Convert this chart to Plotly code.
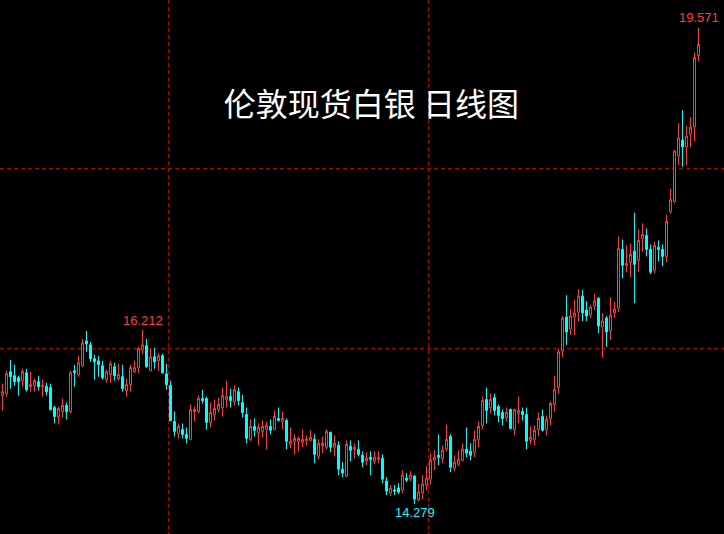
import numpy as np
import plotly.graph_objects as go

# ---- data ----
opens = [
    15.482, 15.504, 15.748, 15.703, 15.681, 15.648, 15.736, 15.582, 15.593, 15.637,
    15.582, 15.582, 15.571, 15.350, 15.250, 15.305, 15.372, 15.305, 15.758, 15.714,
    15.814, 16.090, 16.046, 15.891, 15.869, 15.814, 15.659, 15.714, 15.803, 15.670,
    15.692, 15.537, 15.604, 15.748, 15.792, 15.990, 16.035, 15.758, 15.913, 15.869,
    15.925, 15.725, 15.593, 15.195, 15.062, 15.106, 15.051, 14.996, 15.305, 15.305,
    15.449, 15.449, 15.184, 15.272, 15.327, 15.350, 15.438, 15.471, 15.416, 15.526,
    15.405, 15.272, 14.996, 15.140, 15.073, 15.084, 15.106, 15.140, 15.106, 15.228,
    15.195, 15.206, 14.941, 14.974, 14.974, 14.963, 14.985, 14.985, 14.996, 14.808,
    14.930, 14.908, 15.073, 14.908, 14.930, 14.665, 14.588, 14.919, 14.886, 14.886,
    14.819, 14.753, 14.797, 14.753, 14.775, 14.786, 14.532, 14.399, 14.433, 14.455,
    14.433, 14.565, 14.554, 14.588, 14.322, 14.399, 14.488, 14.554, 14.764, 14.819,
    14.786, 14.886, 15.029, 14.676, 14.720, 14.764, 14.886, 14.864, 14.853, 14.996,
    15.151, 15.438, 15.350, 15.460, 15.361, 15.294, 15.239, 15.327, 15.106, 15.283,
    15.305, 15.272, 14.985, 14.996, 15.106, 15.250, 15.106, 15.228, 15.383, 15.571,
    15.979, 16.355, 16.222, 16.355, 16.410, 16.587, 16.433, 16.377, 16.477, 16.565,
    16.245, 16.344, 16.200, 16.400, 16.455, 17.107, 16.930, 16.963, 17.085, 16.985,
    17.228, 17.261, 17.107, 16.875, 17.129, 17.107, 17.029, 17.526, 17.637, 18.145,
    18.322, 18.245, 18.388, 18.466, 19.261,
]
highs = [
    15.615, 15.758, 15.880, 15.825, 15.703, 15.780, 15.780, 15.748, 15.670, 15.703,
    15.659, 15.626, 15.615, 15.372, 15.361, 15.449, 15.405, 15.758, 15.825, 15.925,
    16.112, 16.200, 16.079, 15.936, 15.925, 15.869, 15.769, 15.869, 15.847, 15.836,
    15.825, 15.670, 15.825, 15.869, 16.024, 16.212, 16.112, 16.002, 16.013, 15.957,
    15.946, 15.836, 15.648, 15.305, 15.173, 15.173, 15.129, 15.383, 15.361, 15.482,
    15.548, 15.471, 15.405, 15.438, 15.460, 15.571, 15.648, 15.560, 15.593, 15.571,
    15.493, 15.350, 15.217, 15.228, 15.173, 15.206, 15.195, 15.217, 15.316, 15.350,
    15.305, 15.228, 15.129, 15.051, 15.029, 15.106, 15.040, 15.096, 15.051, 14.996,
    15.029, 15.106, 15.084, 15.040, 14.974, 14.742, 14.985, 14.985, 14.952, 14.985,
    14.864, 14.853, 14.864, 14.864, 14.864, 14.830, 14.577, 14.488, 14.488, 14.510,
    14.654, 14.621, 14.643, 14.599, 14.499, 14.599, 14.698, 14.842, 14.875, 15.051,
    14.930, 15.162, 15.051, 14.819, 14.875, 14.952, 15.129, 14.952, 15.096, 15.195,
    15.471, 15.571, 15.504, 15.504, 15.383, 15.327, 15.350, 15.339, 15.339, 15.471,
    15.350, 15.350, 15.140, 15.151, 15.294, 15.327, 15.261, 15.416, 15.703, 16.002,
    16.366, 16.598, 16.444, 16.543, 16.665, 16.654, 16.532, 16.488, 16.610, 16.576,
    16.400, 16.366, 16.576, 16.521, 17.250, 17.217, 17.151, 17.173, 17.515, 17.328,
    17.394, 17.339, 17.162, 17.195, 17.206, 17.162, 17.493, 17.781, 18.212, 18.510,
    18.654, 18.477, 18.576, 19.294, 19.571,
]
lows = [
    15.316, 15.471, 15.559, 15.593, 15.482, 15.582, 15.526, 15.526, 15.526, 15.537,
    15.471, 15.482, 15.316, 15.173, 15.162, 15.239, 15.217, 15.283, 15.582, 15.692,
    15.803, 15.968, 15.858, 15.659, 15.692, 15.659, 15.626, 15.626, 15.648, 15.648,
    15.526, 15.471, 15.526, 15.736, 15.736, 15.946, 15.792, 15.758, 15.781, 15.758,
    15.725, 15.548, 15.195, 15.029, 15.007, 15.007, 14.952, 14.985, 15.195, 15.283,
    15.394, 15.106, 15.129, 15.206, 15.294, 15.250, 15.350, 15.350, 15.372, 15.372,
    15.239, 14.952, 14.974, 15.029, 14.930, 15.018, 14.886, 15.051, 15.096, 15.195,
    15.106, 14.886, 14.897, 14.830, 14.864, 14.908, 14.930, 14.974, 14.731, 14.775,
    14.842, 14.886, 14.853, 14.808, 14.599, 14.577, 14.577, 14.753, 14.786, 14.808,
    14.687, 14.709, 14.599, 14.720, 14.731, 14.510, 14.377, 14.366, 14.377, 14.388,
    14.399, 14.521, 14.532, 14.279, 14.311, 14.333, 14.433, 14.499, 14.654, 14.709,
    14.731, 14.864, 14.632, 14.643, 14.698, 14.753, 14.797, 14.764, 14.797, 14.908,
    15.106, 15.173, 15.283, 15.261, 15.184, 15.151, 15.195, 15.106, 15.040, 15.173,
    15.206, 14.886, 14.941, 14.930, 15.029, 15.084, 15.040, 15.151, 15.305, 15.504,
    15.913, 16.046, 16.156, 16.156, 16.311, 16.311, 16.311, 16.344, 16.433, 16.178,
    15.902, 16.024, 16.101, 16.344, 16.410, 16.786, 16.853, 16.797, 16.510, 16.853,
    17.085, 17.029, 16.831, 16.842, 16.974, 16.919, 16.963, 17.504, 17.626, 18.046,
    18.024, 18.046, 18.245, 18.311, 19.195,
]
closes = [
    15.526, 15.725, 15.692, 15.637, 15.637, 15.748, 15.548, 15.604, 15.648, 15.582,
    15.593, 15.526, 15.327, 15.250, 15.339, 15.372, 15.305, 15.736, 15.736, 15.847,
    16.068, 16.057, 15.891, 15.858, 15.825, 15.681, 15.748, 15.836, 15.703, 15.714,
    15.560, 15.604, 15.792, 15.792, 16.002, 16.046, 15.803, 15.913, 15.858, 15.925,
    15.736, 15.604, 15.206, 15.084, 15.140, 15.051, 15.007, 15.327, 15.327, 15.449,
    15.427, 15.184, 15.294, 15.339, 15.383, 15.482, 15.471, 15.427, 15.548, 15.427,
    15.294, 15.007, 15.140, 15.096, 15.129, 15.140, 15.151, 15.096, 15.250, 15.206,
    15.228, 14.974, 14.974, 15.007, 15.007, 14.996, 14.996, 15.018, 14.830, 14.952,
    14.952, 15.084, 14.908, 14.952, 14.665, 14.621, 14.941, 14.875, 14.908, 14.830,
    14.742, 14.786, 14.775, 14.797, 14.797, 14.554, 14.421, 14.455, 14.421, 14.410,
    14.599, 14.543, 14.599, 14.333, 14.410, 14.499, 14.565, 14.764, 14.797, 14.797,
    14.875, 14.996, 14.687, 14.742, 14.775, 14.886, 14.842, 14.819, 14.996, 15.140,
    15.427, 15.316, 15.438, 15.316, 15.261, 15.228, 15.294, 15.118, 15.327, 15.316,
    15.272, 14.974, 15.018, 15.096, 15.228, 15.096, 15.217, 15.394, 15.548, 15.968,
    16.344, 16.189, 16.366, 16.400, 16.587, 16.400, 16.366, 16.466, 16.532, 16.256,
    16.311, 16.189, 16.377, 16.444, 17.118, 16.930, 16.952, 17.051, 16.941, 17.206,
    17.272, 17.107, 16.853, 17.151, 17.107, 17.029, 17.416, 17.659, 18.200, 18.344,
    18.245, 18.366, 18.466, 19.239, 19.383,
]
days = list(range(len(opens)))
grid_days = [41.5, 106.5]
grid_prices = [16, 18]
title_text = "伦敦现货白银 日线图"

UP = "#ff3c3c"
DOWN = "#00ffff"
GRID = "#b00000"

fig = go.Figure()
fig.add_trace(go.Candlestick(
    x=days, open=opens, high=highs, low=lows, close=closes,
    increasing=dict(line=dict(color=UP, width=1), fillcolor="#000000"),
    decreasing=dict(line=dict(color=DOWN, width=1), fillcolor=DOWN),
    whiskerwidth=0, hoverinfo="skip", showlegend=False,
))

h = np.array(highs)
l = np.array(lows)
i_max = int(np.argmax(h))
i_min = int(np.argmin(l))
i_loc = int(np.argmax(h[:60]))

def label(i, y, color, shift):
    fig.add_annotation(x=days[i], y=y, text=f"{y:.3f}", showarrow=False,
                       yshift=shift, xanchor="center", yanchor="middle",
                       font=dict(family="Liberation Sans, Arial", size=13, color=color))

label(i_max, highs[i_max], UP, 10)
label(i_loc, highs[i_loc], UP, 9)
label(i_min, lows[i_min], DOWN, -9)

fig.update_layout(
    width=724, height=534,
    margin=dict(l=0, r=0, t=0, b=0),
    paper_bgcolor="#000000", plot_bgcolor="#000000",
    boxgap=0.5, boxgroupgap=0,
    title=dict(text=title_text, x=0.513, y=0.803, xanchor="center", yanchor="middle",
               font=dict(family="Noto Sans CJK SC", size=32, color="#ffffff")),
    xaxis=dict(range=[-0.625, 180.375], rangeslider=dict(visible=False),
               tickvals=grid_days, showticklabels=False, ticks="",
               showgrid=True, gridcolor=GRID, gridwidth=1, griddash="4px,3px",
               zeroline=False, showline=False, fixedrange=True),
    yaxis=dict(range=[13.9444, 19.8777], tickvals=grid_prices, showticklabels=False, ticks="",
               showgrid=True, gridcolor=GRID, gridwidth=1, griddash="4px,3px",
               zeroline=False, showline=False, fixedrange=True),
)

fig.write_html("out.html", config={"displayModeBar": False},
               post_script="document.body.style.margin='0';document.body.style.background='#000';")
